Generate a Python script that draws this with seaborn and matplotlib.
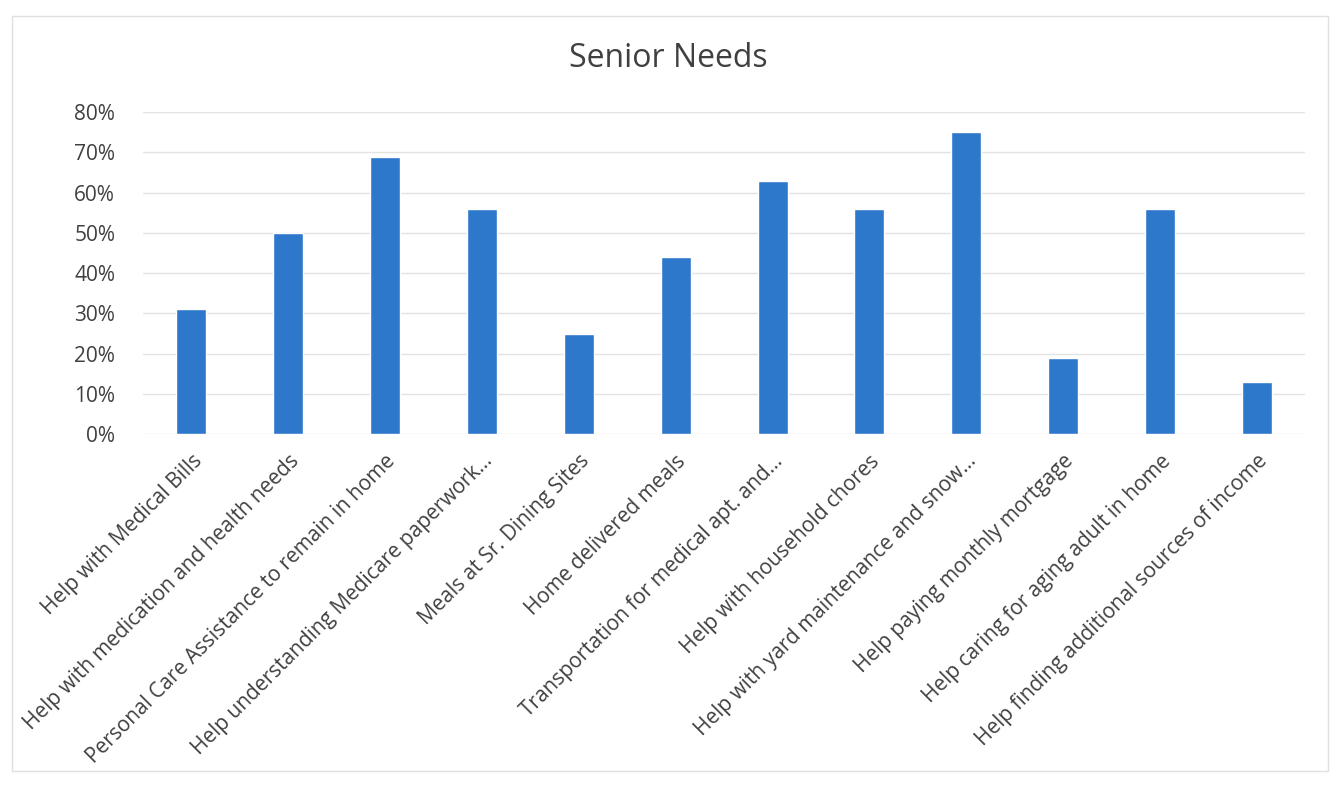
import seaborn as sns
import pandas as pd
import matplotlib.pyplot as plt
from matplotlib.patches import Rectangle
from matplotlib.ticker import PercentFormatter

categories = [
    "Help with Medical Bills",
    "Help with medication and health needs",
    "Personal Care Assistance to remain in home",
    "Help understanding Medicare paperwork...",
    "Meals at Sr. Dining Sites",
    "Home delivered meals",
    "Transportation for medical apt. and...",
    "Help with household chores",
    "Help with yard maintenance and snow...",
    "Help paying monthly mortgage",
    "Help caring for aging adult in home",
    "Help finding additional sources of income",
]
values = [31, 50, 69, 56, 25, 44, 63, 56, 75, 19, 56, 13]
y_ticks = [0, 10, 20, 30, 40, 50, 60, 70, 80]

df = pd.DataFrame({"need": categories, "pct": values})

sns.set_style("white")
plt.rcParams["font.family"] = ["Open Sans", "DejaVu Sans"]

fig = plt.figure(figsize=(13.36, 7.85), dpi=100)
ax = fig.add_axes([0.107, 0.447, 0.870, 0.410])

sns.barplot(data=df, x="need", y="pct", color="#2E78CC", saturation=1, width=0.31, ax=ax)

ax.set_ylim(0, 80)
ax.set_xlim(-0.5, len(categories) - 0.5)
ax.set_yticks(y_ticks)
ax.yaxis.set_major_formatter(PercentFormatter(decimals=0))
ax.grid(axis="y", color="#e3e3e3", linewidth=1)
ax.set_axisbelow(True)
for s in ax.spines.values():
    s.set_visible(False)
ax.tick_params(axis="y", length=0, labelsize=15, colors="#404040", pad=20)
ax.tick_params(axis="x", length=0, labelsize=15, colors="#404040", pad=12)
plt.setp(ax.get_xticklabels(), rotation=45, ha="right", va="top", rotation_mode="anchor")
ax.set_xlabel("")
ax.set_ylabel("")

fig.text(0.5, 0.926, "Senior Needs", ha="center", va="center", fontsize=23, color="#404040")

# light chart border
fig.patches.append(Rectangle((0.009, 0.018), 0.985, 0.962, transform=fig.transFigure,
                             fill=False, edgecolor="#e0e0e0", linewidth=1))

fig.savefig("out.png", dpi=100)
